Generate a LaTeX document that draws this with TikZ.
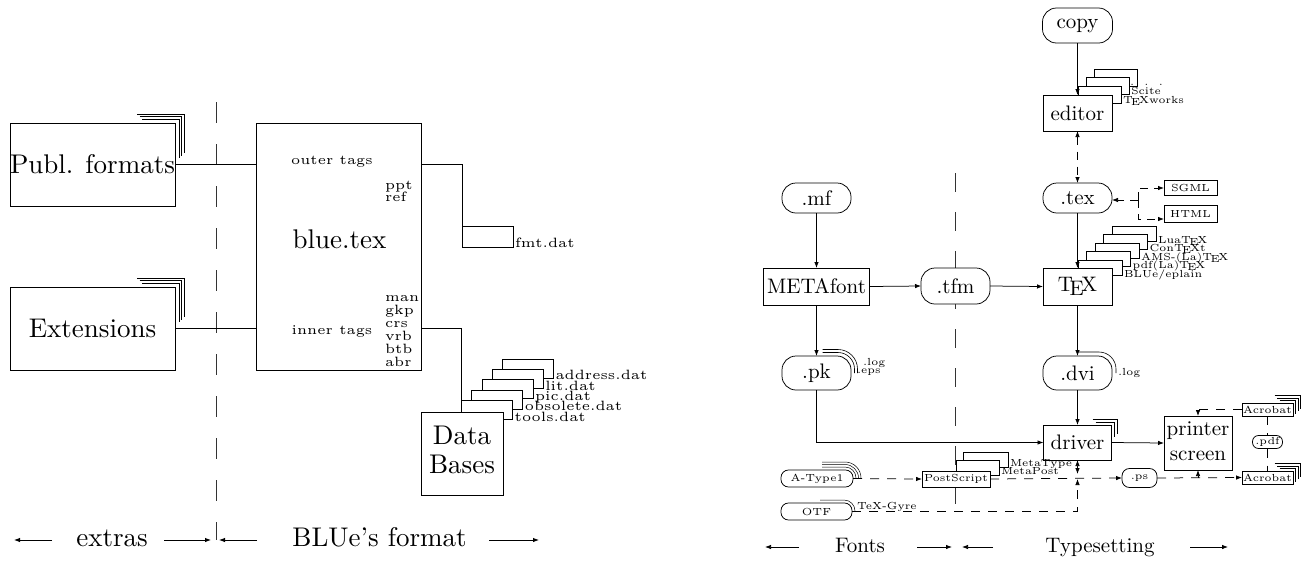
\documentclass[tikz,border=0pt]{standalone}
\usetikzlibrary{arrows.meta,calc}
\newcommand\Lbig[1]{\scalebox{2.7}{#1}}
\newcommand\Lsmall[1]{\scalebox{2.7}{\tiny #1}}
\newcommand\Rbig[1]{\scalebox{2.1}{#1}}
\newcommand\Rsmall[1]{\scalebox{2.05}{\tiny #1}}
\tikzset{
  every node/.style={inner sep=0pt, outer sep=0pt},
  lnL/.style={draw=black, line width=0.9pt},
  lnR/.style={draw=black, line width=0.75pt},
  boxL/.style={lnL, fill=white},
  boxR/.style={lnR, fill=white},
  ovalR/.style={lnR, fill=white, rounded corners=14pt},
  ovalS/.style={lnR, fill=white, rounded corners=7.5pt},
  sepL/.style={draw=black!80, line width=0.8pt, dash pattern=on 21pt off 21pt},
  sepR/.style={draw=black!80, line width=0.8pt, dash pattern=on 19pt off 20pt},
  dashR/.style={lnR, dash pattern=on 9pt off 8pt},
  shadowln/.style={draw=black, line width=0.5pt},
  arr/.style={-{Latex[length=6pt,width=4.5pt]}},
  arrbi/.style={{Latex[length=6pt,width=4.5pt]}-{Latex[length=6pt,width=4.5pt]}},
}
\begin{document}
\begin{tikzpicture}[x=1pt,y=-1pt]
\useasboundingbox (0,0) rectangle (1314,563);

% ================= BLUe's format =================
\draw[sepL] (216,102) -- (216,540);

\node[boxL, minimum width=165, minimum height=83] (publ) at (92.5,164.5) {\Lbig{Publ. formats}};
\node[boxL, minimum width=165, minimum height=83] (ext) at (92.5,328.5) {\Lbig{Extensions}};
\foreach \n in {publ,ext}
  \foreach \d in {4,6.5,9}
    \draw[shadowln] ($(\n.north east)+({-29-\d},-\d)$) -- ($(\n.north east)+(\d,-\d)$) -- ($(\n.north east)+(\d,{39-\d})$);

\node[boxL, minimum width=165, minimum height=247] (blue) at (338.5,246.5) {};
\node[anchor=base] (bluetxt) at (339.5,248) {\Lbig{blue.tex}};
\node (outer) at (332,162) {\Lsmall{outer tags}};
\node (inner) at (332,331) {\Lsmall{inner tags}};
\node[anchor=base west] (ppt) at (385,189) {\Lsmall{ppt}};
\node[anchor=base west] (ref) at (385,201) {\Lsmall{ref}};
\foreach \t [count=\i from 0] in {man,gkp,crs,vrb,btb,abr}
  \node[anchor=base west] (tag\i) at (385,{301+13*\i}) {\Lsmall{\t}};

\draw[lnL] (publ.east) -- (publ.east -| blue.west);
\draw[lnL] (ext.east) -- (ext.east -| blue.west);

\node[boxL, minimum width=51, minimum height=21] (fmt) at (487.5,236.5) {};
\node[anchor=base west] (fmtlab) at ($(fmt.south east)+(2,0)$) {\Lsmall{fmt.dat}};
\draw[lnL] (publ.east -| blue.east) -| (fmt.north west);

% stacked data files
\foreach \k/\nm in {4/address,3/lit,2/pic,1/obsolete,0/tools} {
  \node[boxL, minimum width=51, minimum height=19, anchor=north west] (db\k) at ({461.7+10.2*\k},{400.7-10.4*\k}) {};
  \node[anchor=base west] (dblab\k) at ($(db\k.south east)+(2,1.5)$) {\Lsmall{\nm.dat}};
}
\draw[lnL] (ext.east -| blue.east) -| (db0.north west);
\node[boxL, minimum width=82, minimum height=83] (data) at (462,453.5)
  {\Lbig{\renewcommand\arraystretch{0.9}\begin{tabular}{@{}c@{}}Data\\Bases\end{tabular}}};

% scope arrows
\node[anchor=base] (extras) at (112,546) {\Lbig{extras}};
\node[anchor=base] (bformat) at (379.5,546) {\Lbig{BLUe's format}};
\coordinate (e1s) at (52,540);  \coordinate (e1t) at (14,540);
\coordinate (e2s) at (164,540); \coordinate (e2t) at (211,540);
\coordinate (e3s) at (257,540); \coordinate (e3t) at (219,540);
\coordinate (e4s) at (489,540); \coordinate (e4t) at (539,540);
\foreach \a in {1,2,3,4} \draw[lnL, arr] (e\a s) -- (e\a t);

% ================= Typesetting =================
\draw[sepR] (955,173) -- (955,522);

\node[ovalR, minimum width=70, minimum height=35] (copy) at (1077.5,25.5) {\Rbig{copy}};

% editors
\foreach \k/\lab in {1/Scite,0/{\TeX works}} {
  \node[boxR, minimum width=43, minimum height=17, anchor=north west] (ed\k) at ({1078+8*\k},{86-8.3*\k}) {};
  \node[anchor=base west] (edlab\k) at ($(ed\k.south east)+(2,0)$) {\Rsmall{\lab}};
}
\node[boxR, minimum width=43, minimum height=17, anchor=north west] (ed2) at (1094,69.4) {};
\node[anchor=base west] (edlab2) at (1130,85) {\Rsmall{.\hspace{5pt}.\hspace{5pt}.}};
% redraw middle sheet on top of the back one
\node[boxR, minimum width=43, minimum height=17, anchor=north west] (ed1b) at (1086,77.7) {};
\node[boxR, minimum width=43, minimum height=17, anchor=north west] (ed0b) at (1078,86) {};
\node[boxR, minimum width=69, minimum height=36] (editor) at (1077.5,113) {\Rbig{editor}};

\node[ovalR, minimum width=69, minimum height=30] (texf) at (1077.5,198) {\Rbig{.tex}};
\node[boxR, minimum width=53, minimum height=15] (sgml) at (1190.5,188) {\Rsmall{SGML}};
\node[boxR, minimum width=53, minimum height=17] (html) at (1190.5,214) {\Rsmall{HTML}};
\coordinate (fork) at (1138,200);
\draw[lnR, dash pattern=on 8pt off 6pt, arr] (fork) -- (fork -| texf.east);
\draw[lnR, dash pattern=on 8pt off 6pt, arr] (fork) |- (sgml.west);
\draw[lnR, dash pattern=on 8pt off 6pt, arr] (fork) |- ($(html.west)+(0,5)$);

% TeX engines
\foreach \k/\lab in {4/{Lua\TeX},3/{Con\TeX t},2/{AMS-(La)\TeX},1/{pdf(La)\TeX},0/{BLUe/eplain}} {
  \node[boxR, minimum width=44, minimum height=15, anchor=north west] (en\k) at ({1078+8.5*\k},{260-8.5*\k}) {};
  \node[anchor=base west] (enlab\k) at ($(en\k.south east)+(2,2)$) {\Rsmall{\lab}};
}
\node[boxR, minimum width=69, minimum height=37] (tex) at (1077.5,286.5) {\Rbig{\TeX}};

\node[ovalR, minimum width=69, minimum height=30] (mf) at (816.5,198) {\Rbig{.mf}};
\node[boxR, minimum width=106, minimum height=37] (metafont) at (816.5,286.5) {\Rbig{METAfont}};
\node[ovalR, minimum width=69, minimum height=36] (tfm) at (955.5,286) {\Rbig{.tfm}};

\node[ovalR, minimum width=69, minimum height=34] (pk) at (816.5,373) {\Rbig{.pk}};
\foreach \d in {3.5,6.5}
  \draw[shadowln, line width=0.6pt, rounded corners={13+\d}] ($(pk.north)+(6,-\d)$) -- ($(pk.north east)+(\d,-\d)$) -- ($(pk.east)+(\d,0)$);
\node[anchor=base west] (pklog) at (863,365) {\Rsmall{.log}};
\node[anchor=base west] (pkeps) at (857,373) {\Rsmall{.eps}};

\node[ovalR, minimum width=69, minimum height=34] (dvi) at (1077.5,373) {\Rbig{.dvi}};
\draw[shadowln, line width=0.6pt, rounded corners=17] ($(dvi.north)+(1,-4)$) -- ($(dvi.north east)+(4,-4)$) -- ($(dvi.east)+(4,0)$);
\node[anchor=base west] (dvilog) at (1118,375) {\Rsmall{.log}};

\node[boxR, minimum width=68, minimum height=35] (driver) at (1077.5,442.5) {\Rbig{driver}};
\foreach \d in {3,6}
  \draw[shadowln] ($(driver.north east)+({-13-\d},-\d)$) -- ($(driver.north east)+(\d,-\d)$) -- ($(driver.north east)+(\d,{15-\d})$);

\node[boxR, minimum width=68, minimum height=54] (printer) at (1198,443)
  {\Rbig{\begin{tabular}{@{}c@{}}printer\\screen\end{tabular}}};

\node[boxR, minimum width=51, minimum height=13] (acrT) at (1267.5,409.5) {\Rsmall{Acrobat}};
\node[boxR, minimum width=51, minimum height=13] (acrB) at (1267.5,477.5) {\Rsmall{Acrobat}};
\foreach \n in {acrT,acrB}
  \foreach \d in {2.5,5,7.5}
    \draw[shadowln] ($(\n.north east)+({-11-\d},-\d)$) -- ($(\n.north east)+(\d,-\d)$) -- ($(\n.north east)+(\d,{13-\d})$);
\node[ovalS, minimum width=30, minimum height=13, rounded corners=6pt] (pdf) at (1267.5,442) {\Rsmall{.pdf}};

\node[ovalS, minimum width=35, minimum height=19] (ps) at (1139.5,478) {\Rsmall{.ps}};

\node[ovalS, minimum width=72, minimum height=17] (atype) at (817,478.5) {\Rsmall{A-Type1}};
\foreach \d in {3,5.5,8}
  \draw[shadowln, rounded corners={8+\d}] ($(atype.north)+(5,-\d)$) -- ($(atype.north east)+(\d,-\d)$) -- ($(atype.east)+(\d,0)$);
\node[ovalS, minimum width=71, minimum height=17] (otf) at (816.5,511.5) {\Rsmall{OTF}};
\draw[shadowln, rounded corners=11] ($(otf.north)+(3.5,-3)$) -- ($(otf.north east)+(3,-3)$) -- ($(otf.east)+(3,0)$);
\node[anchor=base west] (gyre) at (857,509) {\Rsmall{TeX-Gyre}};

% PostScript producers
\node[boxR, minimum width=45, minimum height=15, anchor=north west] (mtype) at (963,452) {};
\node[anchor=base west] (mtypelab) at (1010,466) {\Rsmall{MetaType}};
\node[boxR, minimum width=43, minimum height=15, anchor=north west] (mpost) at (956,460) {};
\node[anchor=base west] (mpostlab) at (1001,474) {\Rsmall{MetaPost}};
\node[boxR, minimum width=68, minimum height=16] (postscript) at (956,479) {\Rsmall{PostScript}};

% connectors
\draw[lnR, arr] (copy.south) -- (editor.north);
\draw[lnR, dash pattern=on 8pt off 7pt, arrbi] (editor.south) -- (texf.north);
\draw[lnR, arr] (texf.south) -- (tex.north);
\draw[lnR, arr] (mf.south) -- (metafont.north);
\draw[lnR, arr] (metafont.east) -- (tfm.west);
\draw[lnR, arr] (tfm.east) -- (tex.west);
\draw[lnR, arr] (metafont.south) -- (pk.north);
\draw[lnR, arr] (tex.south) -- (dvi.north);
\draw[lnR, arr] (dvi.south) -- (driver.north);
\draw[lnR, arr] (pk.south) |- (driver.west);
\draw[lnR, arr] (driver.east) -- (printer.west);
\draw[dashR, arr] (acrT.west) -| (printer.north);
\draw[dashR] (acrT.south) -- (pdf.north);
\draw[dashR] (pdf.south) -- (acrB.north);
\draw[dashR, arr] (ps.east) -- (acrB.west);
\draw[lnR, arr] (printer.south |- ps.east) -- (printer.south);
\draw[dashR, arr] (atype.east) -- (postscript.west);
\draw[dashR, arr] (postscript.east) -- (ps.west);
\coordinate (dj) at (driver.south |- ps.west);
\draw[lnR, arrbi] (driver.south) -- ($(dj)+(0,-4)$);
\draw[dashR, arr] (otf.east) -| ($(dj)+(0,1)$);

% scope arrows
\node[anchor=base] (fonts) at (860,552) {\Rbig{Fonts}};
\node[anchor=base] (typeset) at (1100,552) {\Rbig{Typesetting}};
\coordinate (f1s) at (799,547);  \coordinate (f1t) at (765,547);
\coordinate (f2s) at (917,547);  \coordinate (f2t) at (952,547);
\coordinate (f3s) at (993,547);  \coordinate (f3t) at (962,547);
\coordinate (f4s) at (1190,547); \coordinate (f4t) at (1228,547);
\foreach \a in {1,2,3,4} \draw[lnR, arr] (f\a s) -- (f\a t);
\end{tikzpicture}
\end{document}
